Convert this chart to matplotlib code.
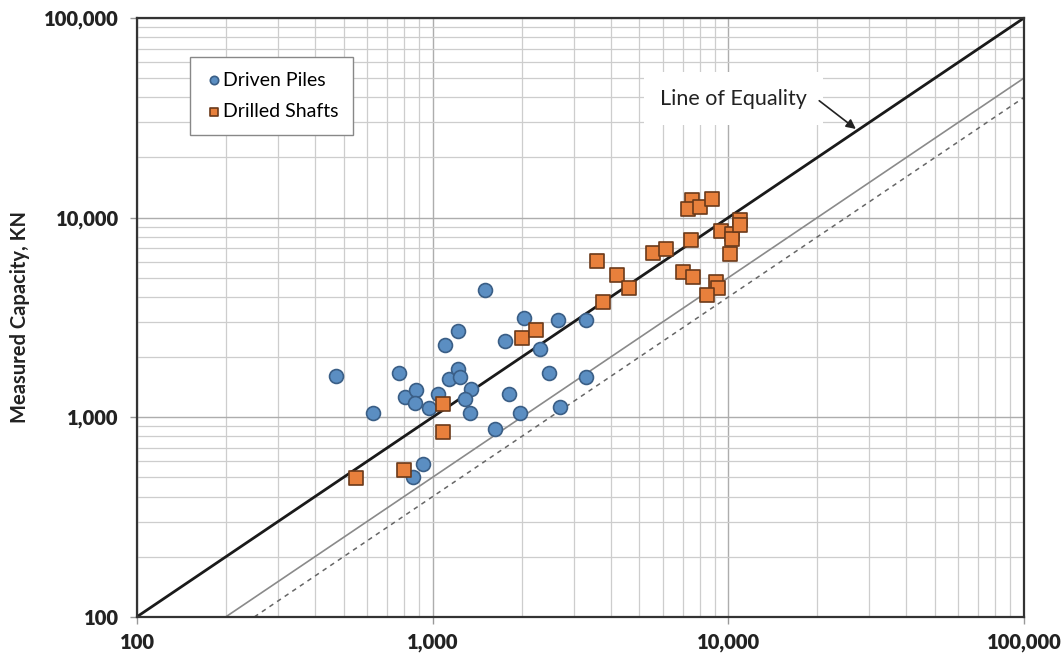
import numpy as np
import matplotlib.pyplot as plt
from matplotlib.ticker import FixedLocator, LogLocator, NullFormatter, FuncFormatter

# Pilotes hincados (calculado, medido) en kN
driven_x = [470, 627, 769, 808, 880, 874, 972, 1045, 1103, 1218, 1133, 1218, 1240,
            1345, 1290, 1338, 1503, 1621, 1761, 1812, 1970, 2037, 2312, 2480, 2648,
            2696, 3293, 3293, 930, 858]
driven_y = [1607, 1049, 1670, 1266, 1362, 1173, 1111, 1301, 2306, 2692, 1547, 1742, 1583,
            1378, 1228, 1049, 4335, 875, 2406, 1310, 1049, 3150, 2188, 1670, 3057,
            1128, 3057, 1583, 584, 499]

# Pilas perforadas
drilled_x = [549, 800, 1081, 1081, 2011, 2231, 3587, 3760, 4203, 4603, 5549, 6155, 7459,
             7552, 7304, 8021, 8805, 9424, 10265, 10290, 10978, 10990, 10154, 7025, 7576,
             9071, 9248, 8502]
drilled_y = [494, 543, 842, 1164, 2483, 2733, 6093, 3788, 5155, 4420, 6622, 6982, 7692,
             12208, 11000, 11334, 12350, 8565, 8300, 7781, 9757, 9156, 6546, 5355, 5021,
             4771, 4420, 4103]

# Rango de los ejes y lineas de referencia
axis_range = [100, 100000]
ratio_lines = [1.0, 0.5, 0.4]
tick_values = [100, 1000, 10000, 100000]

plt.rcParams['font.family'] = ['Lato', 'DejaVu Sans']

fig = plt.figure(figsize=(10.62, 6.57), dpi=100)
ax = fig.add_axes([0.129, 0.0613, 0.8352, 0.9113])

ax.set_xscale('log')
ax.set_yscale('log')
ax.set_xlim(axis_range)
ax.set_ylim(axis_range)

# Rejilla
ax.xaxis.set_major_locator(FixedLocator(tick_values))
ax.yaxis.set_major_locator(FixedLocator(tick_values))
ax.xaxis.set_minor_locator(LogLocator(base=10, subs=np.arange(2, 10)))
ax.yaxis.set_minor_locator(LogLocator(base=10, subs=np.arange(2, 10)))
ax.xaxis.set_minor_formatter(NullFormatter())
ax.yaxis.set_minor_formatter(NullFormatter())
fmt = FuncFormatter(lambda v, p: f'{int(round(v)):,}')
ax.xaxis.set_major_formatter(fmt)
ax.yaxis.set_major_formatter(fmt)
ax.grid(True, which='major', color='#adadad', lw=1.0, zorder=0)
ax.grid(True, which='minor', color='#cdcdcd', lw=0.9, zorder=0)
ax.set_axisbelow(True)

ax.tick_params(which='major', length=5, width=1, color='#999999', labelsize=14.5,
               labelcolor='#222222')
ax.tick_params(axis='x', which='major', pad=7)
ax.tick_params(axis='y', which='major', pad=8)
ax.tick_params(which='minor', length=0)
for lab in ax.get_xticklabels() + ax.get_yticklabels():
    lab.set_fontweight('heavy')

for s in ax.spines.values():
    s.set_color('#333333')
    s.set_linewidth(1.6)

# Lineas de igualdad y relaciones
xr = np.array(axis_range, dtype=float)
ax.plot(xr, xr * ratio_lines[0], color='#1a1a1a', lw=2.0, zorder=2)
ax.plot(xr, xr * ratio_lines[1], color='#8a8a8a', lw=1.2, zorder=2)
ax.plot(xr, xr * ratio_lines[2], color='#666666', lw=1.1, ls=(0, (3, 3)), zorder=2)

# Puntos
ax.scatter(driven_x, driven_y, s=100, marker='o', color='#5b8ec2', edgecolors='#3a5e86',
           linewidths=1.2, label='Driven Piles', zorder=4)
ax.scatter(drilled_x, drilled_y, s=100, marker='s', color='#e8803c', edgecolors='#6b3a1a',
           linewidths=1.2, label='Drilled Shafts', zorder=4)

leg = ax.legend(loc='upper left', bbox_to_anchor=(0.06, 0.935), fontsize=14,
                markerscale=0.6, handletextpad=0.05, handlelength=0.9, labelspacing=0.75,
                borderpad=0.75, borderaxespad=0, fancybox=False, framealpha=1,
                edgecolor='#888888')
leg.get_frame().set_linewidth(1.0)

# Etiqueta de la linea de igualdad
ax.text(10400, 39500, 'Line of Equality', fontsize=15.5, color='#222222',
        ha='center', va='center', zorder=5,
        bbox=dict(boxstyle='square,pad=0.75', fc='white', ec='none'))
ax.annotate('', xy=(27000, 27800), xytext=(20300, 38500),
            arrowprops=dict(arrowstyle='-|>', color='#222222', lw=1.2,
                            shrinkA=0, shrinkB=0, mutation_scale=14),
            zorder=6)

ax.set_ylabel('Measured Capacity, KN', fontsize=14.5, fontweight='bold',
              color='#222222', labelpad=10)

fig.savefig('out.png', dpi=100)
